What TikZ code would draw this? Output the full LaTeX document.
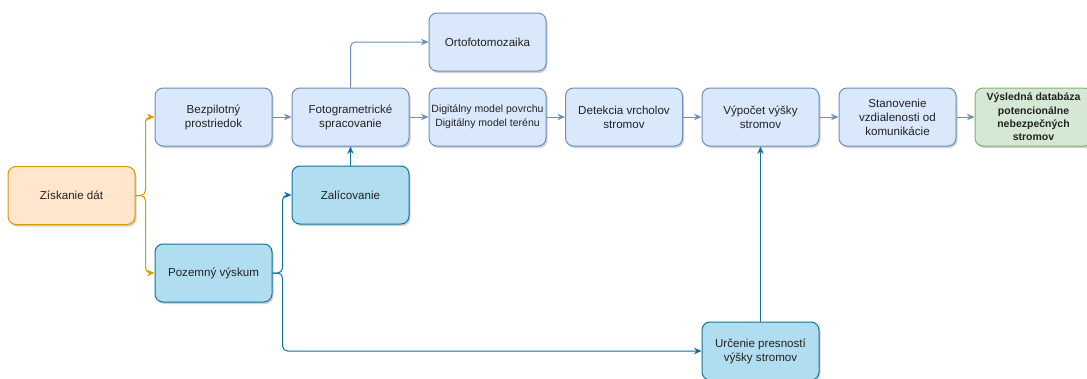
\documentclass[tikz,border=0pt]{standalone}
\usepackage{fontspec}
\setmainfont{Liberation Sans}
\usetikzlibrary{arrows.meta,shadows}
\definecolor{bfill}{HTML}{DAE8FC}\definecolor{bdraw}{HTML}{6C8EBF}
\definecolor{ofill}{HTML}{FFE6CC}\definecolor{odraw}{HTML}{D79B00}
\definecolor{tfill}{HTML}{B1DDF0}\definecolor{tdraw}{HTML}{10739E}
\definecolor{gfill}{HTML}{D5E8D4}\definecolor{gdraw}{HTML}{82B366}
\definecolor{txt}{HTML}{222222}
\tikzset{
  box/.style={rectangle, rounded corners=8pt, minimum width=117pt, minimum height=58pt,
    line width=1pt, align=center, text=txt, inner sep=1pt,
    font=\fontsize{11.6}{14}\selectfont,
    drop shadow={shadow xshift=1.5pt, shadow yshift=-2pt, opacity=0.18, fill=black}},
  bbox/.style={box, fill=bfill, draw=bdraw},
  obox/.style={box, fill=ofill, draw=odraw},
  tbox/.style={box, fill=tfill, draw=tdraw},
  gbox/.style={box, fill=gfill, draw=gdraw},
  conn/.style={line width=1pt, rounded corners=5pt, -{Stealth[length=7.5pt,width=6.5pt]}},
  bconn/.style={conn, draw=bdraw},
  oconn/.style={conn, draw=odraw},
  tconn/.style={conn, draw=tdraw},
}
\begin{document}
\begin{tikzpicture}[x=1pt,y=-1pt]
\path[use as bounding box] (0,0) rectangle (1087,378);
\clip (0,0) rectangle (1087,378);
\node[obox, minimum width=127pt] (zis) at (71.5,195.5) {Získanie dát};
\node[bbox] (bez) at (213.5,117) {Bezpilotný\\prostriedok};
\node[tbox] (poz) at (213.5,273) {Pozemný výskum};
\node[bbox] (fot) at (350.5,117) {Fotogrametrické\\spracovanie};
\node[tbox] (zal) at (350.5,195) {Zalícovanie};
\node[bbox] (ort) at (487.5,42) {Ortofotomozaika};
\node[bbox, font=\fontsize{10.5}{14}\selectfont] (dmp) at (487.5,117) {Digitálny model povrchu\\Digitálny model terénu};
\node[bbox] (det) at (624,117) {Detekcia vrcholov\\stromov};
\node[bbox] (vyp) at (760.5,117) {Výpočet výšky\\stromov};
\node[bbox] (sta) at (897.5,117) {Stanovenie\\vzdialenosti od\\komunikácie};
\node[gbox, font=\bfseries\fontsize{10.5}{13.3}\selectfont] (vys) at (1033.5,117) {Výsledná databáza\\potencionálne\\nebezpečných\\stromov};
\node[tbox] (urc) at (760.5,351) {Určenie presností\\výšky stromov};
\draw[oconn] (zis.east) -- ++(10,0) |- (bez.west);
\draw[oconn] (zis.east) -- ++(10,0) |- (poz.west);
\draw[bconn] (bez) -- (fot);
\draw[bconn] (fot.north) |- (ort.west);
\draw[bconn] (fot) -- (dmp);
\draw[bconn] (dmp) -- (det);
\draw[bconn] (det) -- (vyp);
\draw[bconn] (vyp) -- (sta);
\draw[bconn] (sta) -- (vys);
\draw[tconn] (zal) -- (fot);
\draw[tconn] (poz.east) -- ++(10,0) |- (zal.west);
\draw[tconn] (poz.east) -- ++(10,0) |- (urc.west);
\draw[tconn] (urc) -- (vyp);
\end{tikzpicture}
\end{document}
